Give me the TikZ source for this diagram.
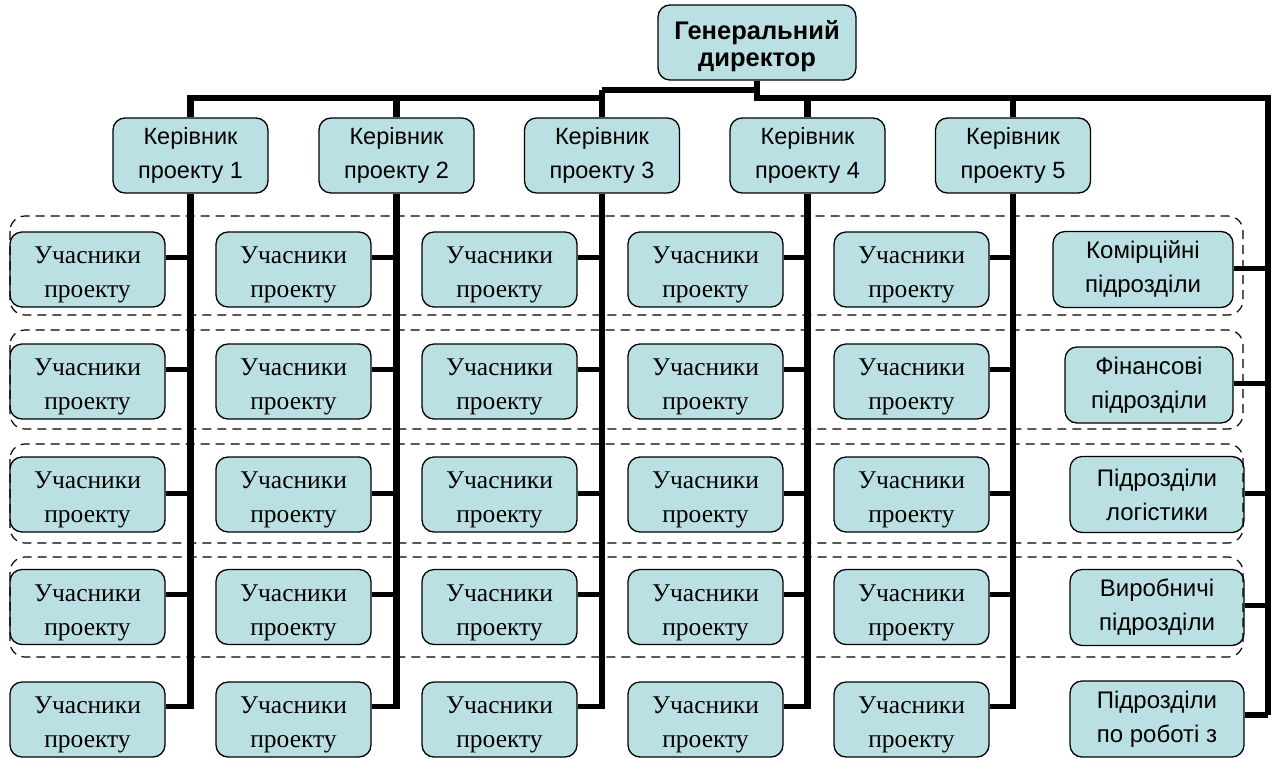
\documentclass[tikz,border=0pt]{standalone}
\usepackage{fontspec}
\setmainfont{Liberation Sans}
\newfontfamily\serifcyr{Liberation Serif}
\definecolor{boxfill}{RGB}{187,224,227}
% two centred lines, drawn #1 lower while keeping their box size
\newcommand\twolines[3]{\raisebox{-#1}[\height][\depth]{\begin{tabular}{@{}c@{}}#2\\#3\end{tabular}}}
\tikzset{
  unitbox/.style={draw=black, line width=1.3pt, fill=boxfill, rounded corners=12pt,
    align=center, inner sep=0pt},
  dirbox/.style={unitbox, minimum width=198pt, minimum height=75pt,
    font=\fontsize{25.5}{27}\selectfont\bfseries},
  mgrbox/.style={unitbox, minimum width=155pt, minimum height=75pt,
    font=\fontsize{23.5}{34}\selectfont},
  membox/.style={unitbox, minimum width=155pt, minimum height=75pt,
    font=\serifcyr\fontsize{25.5}{34}\selectfont},
  deptbox/.style={unitbox, minimum height=76pt,
    font=\fontsize{24}{34}\selectfont},
  busline/.style={line width=6.5pt, line join=miter},
  tieline/.style={line width=5pt},
  groupframe/.style={draw=black, line width=1.2pt, dash pattern=on 9pt off 6pt,
    rounded corners=15pt}
}
\begin{document}
\begin{tikzpicture}[x=1pt, y=-1pt]
\useasboundingbox (0,0) rectangle (1273,758);

% director
\node[dirbox] (gd) at (757,42.5) {\twolines{5.5pt}{Генеральний}{директор}};

% project managers
\foreach \i/\x in {1/190.5, 2/396.5, 3/602, 4/807.5, 5/1013}
  \node[mgrbox] (k\i) at (\x,155.5) {Керівник\\проекту \i};

% project members: five columns, five rows
\foreach \i/\x in {1/87.5, 2/293.5, 3/499.5, 4/705.5, 5/911.5}
  \foreach \j/\y in {1/269.5, 2/381.5, 3/494.5, 4/607, 5/719.5}
    \node[membox] (p\i-\j) at (\x,\y) {\twolines{4.5pt}{Учасники}{проекту}};

% functional departments
\node[deptbox, minimum width=180pt] (d1) at (1143,269.5) {Комірційні\\підрозділи};
\node[deptbox, minimum width=168pt] (d2) at (1149,385) {Фінансові\\підрозділи};
\node[deptbox, minimum width=174pt] (d3) at (1157,494.5) {Підрозділи\\логістики};
\node[deptbox, minimum width=174pt] (d4) at (1157,607.5) {Виробничі\\підрозділи};
\node[deptbox, minimum width=174pt] (d5) at (1157,719) {Підрозділи\\по роботі з};

% main bus
\coordinate (bj) at (760,90);
\coordinate (bs) at (602,90);
\coordinate (bl) at (190.5,98);
\coordinate (br) at (1268,98);
\coordinate (rb) at (1268,715);
\draw[busline] (bj) -- (bs);
\draw[busline] (k3.north) -- (bs);
\draw[busline] (k3.north |- bl) -- (bl) -- (k1.north);
\draw[busline] (k2.north) -- (k2.north |- bl);
\draw[busline] (gd.south) -- (gd.south |- br);
\draw[busline] ([xshift=-3.25pt]gd.south |- br) -- (br) -- (rb);
\draw[busline] (k4.north) -- (k4.north |- br);
\draw[busline] (k5.north) -- (k5.north |- br);

% member ties
\foreach \i in {1,...,5}{
  \foreach \j/\y in {1/257, 2/369, 3/493, 4/594, 5/706}
    \coordinate (c\i-\j) at (k\i.south |- 0,\y);
  \draw[busline] (k\i.south) -- (c\i-5);
  \foreach \j in {1,...,5}
    \draw[tieline] (p\i-\j.east |- c\i-\j) -- ([xshift=3pt]c\i-\j);
}

% department ties
\foreach \j/\y in {1/268, 2/383, 3/493, 4/605}
  \draw[tieline] (d\j.east |- 0,\y) -- ([xshift=3pt]rb |- 0,\y);
\draw[busline] (rb) -- (d5.east |- rb);

% dashed row groups
\foreach \t/\b in {216/315, 330/429, 444/543, 557/657}
  \draw[groupframe] (10,\t) rectangle (1243,\b);
\end{tikzpicture}
\end{document}
